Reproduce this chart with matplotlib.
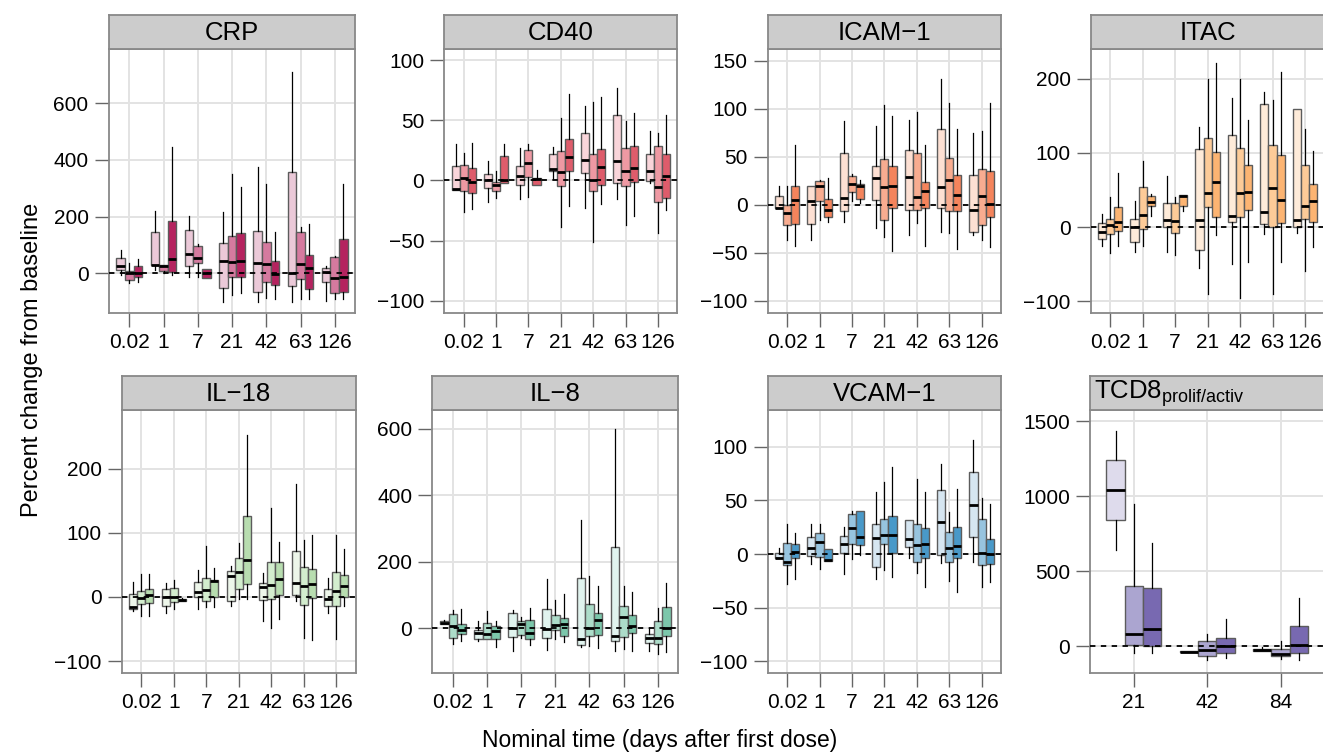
import matplotlib
matplotlib.use('Agg')
import matplotlib.pyplot as plt

plt.rcParams['font.family'] = ['Liberation Sans', 'DejaVu Sans']
plt.rcParams['mathtext.fontset'] = 'custom'
plt.rcParams['mathtext.rm'] = 'Liberation Sans'
plt.rcParams['mathtext.it'] = 'Liberation Sans:italic'
plt.rcParams['mathtext.default'] = 'rm'

# ---------------- data: (whisker low, Q1, median, Q3, whisker high) per box ----------------
times7 = ['0.02', '1', '7', '21', '42', '63', '126']
times_tcd8 = ['21', '42', '84']

crp_stats = [
    (-6, 12, 27, 53, 82), (-35, -24, 0, 9, 35), (-32, -14, 0, 26, 49),
    (12, 29, 29, 145, 221), (0, 9, 27, 29, 30), (-6, 5, 51, 186, 445),
    (-12, 24, 69, 153, 202), (-12, 35, 53, 98, 103), (-18, -18, 0, 16, 16),
    (-100, -53, 45, 106, 215), (-76, -12, 41, 133, 349), (-71, -12, 45, 141, 303),
    (-100, -65, 35, 148, 374), (-86, -29, 31, 112, 315), (-92, -42, -2, 42, 145),
    (-100, -45, 2, 356, 709), (-92, -21, 34, 145, 162), (-92, -56, 19, 65, 174),
    (-96, -32, 6, 20, 24), (-92, -71, -15, 59, 62), (-92, -65, -12, 120, 315),
]
cd40_stats = [
    (-8, -8, -7.5, 12, 30), (-26, -9, 2, 13, 23), (-24, -10.5, -1, 10.5, 31),
    (-18, -6.4, 0, 5.5, 16), (-15, -9, -4, -1, 8), (-2.5, -2.5, 0.3, 20, 30.5),
    (-15.5, -4, 4, 12, 27), (-13.5, 3, 14.4, 25.5, 30), (-4, -4, 1, 2, 9),
    (1, 8, 9.5, 22, 28), (-39, -4.7, 7, 24.7, 52), (-21, 8, 19.4, 34.7, 71.5),
    (-23, 6.4, 17, 39.7, 61.5), (-51, -9, 0, 22, 65), (-20, -3.6, 11, 26, 69.6),
    (-15.5, -2, 16.4, 54.6, 76.5), (-37, -4.7, 8, 27, 49), (-30, -1, 10.5, 28.5, 56),
    (-2, -0.5, 7.8, 22, 41), (-43.5, -17.7, -5.3, 28.5, 39), (-24.7, -15, 3.6, 21.6, 54.6),
]
icam1_stats = [
    (-3, -3, -3, 8.7, 20), (-37, -21, -8.7, -0.3, 20), (-42.5, -20, 5, 19, 62),
    (-37, -20, 4, 19.5, 19.5), (-15.7, 3.5, 20, 24.7, 26), (-18.5, -13, -5.6, 6, 28),
    (-18.5, -6.6, 6.6, 54, 87), (3.5, 13.6, 21.6, 30, 32), (1.4, 6, 19.5, 21.6, 26),
    (-24.7, 5, 28, 40, 81.5), (-34, -16, 18, 47.7, 103.5), (-47.7, -3.5, 20, 40.8, 92),
    (-32, -5.6, 29, 57, 87.8), (-19.5, -5, 7.7, 54, 97), (-42.5, -3.5, 14, 23.7, 61.7),
    (-28, -3.5, 18, 79, 130.6), (-29, -6.6, 25.8, 49, 106), (-45.6, -6.3, 10, 31, 79),
    (-32, -28, -5, 30.7, 75), (-36.6, -21, 8.7, 37, 77), (-44, -13, 1, 35.5, 105.6),
]
itac_stats = [
    (-25, -15.8, -6.3, 5.4, 18), (-35, -10, 3, 11, 41), (-25, -5.4, 7.2, 27, 73),
    (-33, -20, 0, 10.8, 35.6), (-25, -2.7, 15.8, 54, 89.6), (14.4, 28.8, 33.8, 41.4, 45),
    (-34, 0, 10, 32.4, 69), (-38, -8.6, 7.7, 32.4, 41), (21, 29, 42, 43, 43),
    (-54.5, -31, 9, 105, 135), (-90.5, 27, 45.5, 120, 200), (-11, 13, 61, 101, 221),
    (-50, 6.8, 14.4, 124, 173.5), (-95, 13.5, 45.5, 107, 199), (-47, 22.5, 47.7, 83, 143.7),
    (-9, 4.5, 20, 166, 181.5), (-90.5, 0.5, 52, 111, 171.6), (-47, 6, 36, 97, 209.5),
    (-8, 0, 10, 159, 159), (-59, 10.4, 29, 83, 132), (-27, 6.8, 34.7, 58, 102.7),
]
il18_stats = [
    (-22, -19, -15, 4, 23), (-29, -11, -1.6, 9, 36), (-29, -9, 3.6, 12, 36),
    (-25.5, -14.6, 0.5, 12.5, 21), (-19, -8.3, 0.5, 14.6, 26), (-6.8, -6.8, -4.7, -2.6, -1),
    (-19, 0, 8.3, 24, 42), (-16, -6.8, 10.4, 30, 80), (-15, 0.5, 25, 26.6, 45),
    (-13.5, -6.8, 32, 41, 48), (-3, 13, 39.6, 60, 84), (-3, 20, 57.8, 126, 251.5),
    (-37, -4.7, 16, 22.4, 37), (-48, -3, 19.3, 55, 138.5), (-34, 3.6, 28.6, 55, 85.4),
    (-5.7, 2.6, 21, 72, 176), (-63.5, -12, 17.7, 46, 89), (-67, -2, 19.8, 43, 97),
    (-25.5, -14.6, -2.6, 13, 29), (-65, -13.5, 8.9, 38.5, 97), (-13.5, 0, 17.7, 33.9, 75),
]
il8_stats = [
    (12, 12, 17, 21, 25), (-48, -30, 7, 43, 54), (-38, -17, -5, 12, 57),
    (-38, -32, -13, -5, 22), (-32, -32, -16, 15, 52), (-58, -32, -8, 6, 22),
    (-70, -28, 2, 45, 55), (-31, -21, 13, 22, 35), (-52, -33, -13, 24, 60),
    (-65, -29, -3, 58, 148), (-33, -5, 11, 39, 85), (-42, -24, 12, 31, 104),
    (-58, -50, -33, 150, 327), (-55, -23, 2, 73, 158), (-60, -21, 24, 45, 128),
    (-70, -38, -25, 243, 600), (-63, -26, 34, 66, 128), (-70, -15, 7, 39, 110),
    (-70, -45, -29, -18, 0), (-78, -47, -29, 23, 60), (-73, -24, 1, 65, 135),
]
vcam1_stats = [
    (-4, -4, -4, 1, 5.6), (-28, -10, -7, 10, 28), (-23, -3.4, 1.6, 9.3, 20),
    (-9, -2, 6, 16, 28), (-14, -3, 11, 20, 28), (-6.5, -6.5, -6, 4.4, 4.4),
    (-19, 1, 9.3, 16.5, 25), (-5, 9.3, 24, 37, 40), (-1, 8.4, 15.6, 40, 40),
    (-23, -12, 15, 28, 58), (-15, 9.3, 18, 33, 67), (-21, 1, 18, 35.5, 81.6),
    (-4, 6.5, 13.7, 31.5, 32), (-18, -7.5, 8, 28, 70), (-31, -4, 9, 24.3, 58),
    (-8.7, -1.2, 29.6, 60, 84.4), (-25.5, -7, 5.3, 20.5, 39.6), (-35, -3.7, 7.5, 25.5, 61),
    (-7.5, 16, 45.5, 77, 106), (-31, -10, 1.2, 32.7, 52), (-26.5, -9.3, -0.3, 14, 46.7),
]
tcd8_stats = [
    (640, 842, 1042, 1238, 1433), (-49, 7, 80, 400, 947), (-44, 0, 116, 384, 687),
    (-42, -42, -38, -33, -30), (-93, -69, -29, 31, 80), (-80, -44, 2, 51, 180),
    (-33, -33, -29, -18, -9), (-89, -69, -53, -22, 33), (-93, -44, 4, 133, 318),
]

crp_colors = ['#EBC9D8', '#D57A9F', '#B5235F']
cd40_colors = ['#F9D5DA', '#EE99A3', '#DE5C6B']
icam1_colors = ['#FDE0D3', '#F8AC90', '#F4845C']
itac_colors = ['#FEEBD9', '#FDCB98', '#FCB472']
il18_colors = ['#EDF6EA', '#D3EDCE', '#B8DDB0']
il8_colors = ['#E0F3EE', '#ACDCC9', '#7CC7AB']
vcam1_colors = ['#D6E6F1', '#97C4DF', '#4999C9']
tcd8_colors = ['#DEDBEC', '#ABA5D0', '#7869B1']

W, H = 1323, 752
fig = plt.figure(figsize=(W / 100, H / 100), dpi=100)


def px_axes(l, t, r, b):
    return fig.add_axes([l / W, 1 - b / H, (r - l) / W, (b - t) / H])


def panel(l, r, t, b, labels, stats, colors, ylim, yticks, title, title_x=0.5):
    ax = px_axes(l, t, r, b)
    n = len(labels)
    offs = [-0.25, 0.0, 0.25]
    for g in range(n):
        for d in range(3):
            lo, q1, med, q3, hi = stats[g * 3 + d]
            st = dict(whislo=lo, q1=q1, med=med, q3=q3, whishi=hi, fliers=[])
            ax.bxp([st], positions=[g + 1 + offs[d]], widths=0.25,
                   patch_artist=True, showcaps=False, showfliers=False,
                   manage_ticks=False,
                   boxprops=dict(facecolor=colors[d], edgecolor='#5c5c5c', linewidth=1.0),
                   medianprops=dict(color='black', linewidth=2.0, solid_capstyle='butt'),
                   whiskerprops=dict(color='black', linewidth=0.9))
    ax.axhline(0, color='black', lw=1.3, ls=(0, (3, 3)), zorder=6)
    ax.set_xlim(0.4, n + 0.6)
    ax.set_ylim(*ylim)
    ax.set_xticks(range(1, n + 1))
    ax.set_xticklabels(labels)
    ax.set_yticks(yticks)
    ax.grid(True, color='#E3E3E3', lw=1.4)
    ax.set_axisbelow(True)
    for s in ax.spines.values():
        s.set_color('#888888')
        s.set_linewidth(1.3)
    ax.tick_params(direction='out', length=10, width=1, color='#666666',
                   labelsize=15, pad=4.5)
    sa = px_axes(l, t - 34, r, t)
    sa.set_facecolor('#CCCCCC')
    sa.set_xticks([])
    sa.set_yticks([])
    for s in sa.spines.values():
        s.set_color('#888888')
        s.set_linewidth(1.3)
    sa.text(title_x, 0.47, title, ha='center', va='center', fontsize=18.5,
            transform=sa.transAxes)
    return ax


T1, B1 = 49.3, 312.7
T2, B2 = 409.5, 672.7

panel(108.7, 355.3, T1, B1, times7, crp_stats, crp_colors, (-139, 790), [0, 200, 400, 600], 'CRP')
panel(444.3, 677.3, T1, B1, times7, cd40_stats, cd40_colors, (-110, 109), [-100, -50, 0, 50, 100], 'CD40')
panel(767.7, 1001, T1, B1, times7, icam1_stats, icam1_colors, (-112.4, 161.8), [-100, -50, 0, 50, 100, 150], 'ICAM\u22121')
panel(1090.7, 1324.5, T1, B1, times7, itac_stats, itac_colors, (-115.4, 239.6), [-100, 0, 100, 200], 'ITAC')
panel(121.7, 355.7, T2, B2, times7, il18_stats, il18_colors, (-118, 292), [-100, 0, 100, 200], 'IL\u221218')
panel(432.3, 678.3, T2, B2, times7, il8_stats, il8_colors, (-134, 658.5), [0, 200, 400, 600], 'IL\u22128')
panel(767.7, 1001, T2, B2, times7, vcam1_stats, vcam1_colors, (-110.7, 134.9), [-100, -50, 0, 50, 100], 'VCAM\u22121')
panel(1090, 1324.6, T2, B2, times_tcd8, tcd8_stats, tcd8_colors, (-178, 1578), [0, 500, 1000, 1500],
      r'TCD8$_{\mathrm{prolif/activ}}$', title_x=0.34)

fig.text(32 / W, 1 - 360 / H, 'Percent change from baseline', rotation=90,
         ha='center', va='center', fontsize=17)
fig.text(660 / W, 1 - 740 / H, 'Nominal time (days after first dose)',
         ha='center', va='center', fontsize=16.5)

fig.savefig('out.png', dpi=100)
